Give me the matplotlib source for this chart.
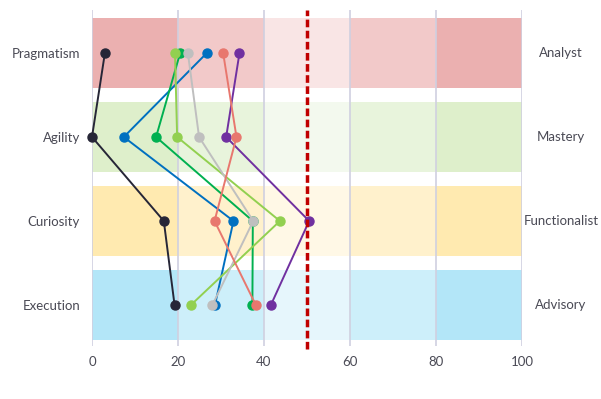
import matplotlib
matplotlib.use("Agg")
import matplotlib.pyplot as plt

# ---- data ----
dimensions = ["Execution", "Curiosity", "Agility", "Pragmatism"]   # bottom -> top
profiles = ["Advisory", "Functionalist", "Mastery", "Analyst"]
x_ticks = [0, 20, 40, 60, 80, 100]
threshold = 50

# score per series, ordered like `dimensions`
black = [19.2, 16.7, 0.0, 3.0]
blue = [28.6, 32.9, 7.4, 26.7]
green = [37.3, 37.4, 14.9, 20.5]
purple = [41.6, 50.5, 31.2, 34.3]
lightgreen = [23.0, 43.7, 19.8, 19.3]
gray = [28.0, 37.5, 24.9, 22.3]
salmon = [38.1, 28.5, 33.6, 30.5]

series = [
    (black, "#262637"),
    (blue, "#0070C0"),
    (green, "#00B050"),
    (purple, "#7030A0"),
    (lightgreen, "#92D050"),
    (gray, "#BFBFBF"),
    (salmon, "#E8776E"),
]

# band shading: edges along x and shade level (0 dark, 1 medium, 2 light)
band_edges = [0, 20, 40, 60, 80, 100]
band_levels = [0, 1, 2, 1, 0]
band_colors = [
    ["#B3E6F8", "#CDEFFA", "#E6F6FC"],  # Execution / Advisory
    ["#FFEAB0", "#FFF1CC", "#FFF8E6"],  # Curiosity / Functionalist
    ["#DEEFCB", "#E8F4DC", "#F3F9EE"],  # Agility / Mastery
    ["#EBB0B0", "#F2C9C9", "#F9E5E5"],  # Pragmatism / Analyst
]

plt.rcParams["font.family"] = ["Lato", "DejaVu Sans"]
text_color = "#4A4A55"

fig = plt.figure(figsize=(6.01, 3.99), dpi=100)
ax = fig.add_axes([92 / 601, 53 / 399, 430 / 601, 336 / 399])

ys = list(range(len(dimensions)))
for y, shades in zip(ys, band_colors):
    for i, lvl in enumerate(band_levels):
        ax.barh(y, band_edges[i + 1] - band_edges[i], left=band_edges[i],
                height=0.833, color=shades[lvl], lw=0, zorder=1)

for xt in x_ticks:
    ax.axvline(xt, color="#D0D0E0", lw=1.2, zorder=2)

for vals, col in series:
    ax.plot(vals, ys, color=col, lw=1.4, marker="o", ms=6.5,
            zorder=4, clip_on=False)

ax.axvline(threshold, color="#C00000", lw=2.5, ls=(0, (2.2, 1.0)), zorder=5,
           ymin=-0.01, ymax=1.0, clip_on=False)

ax.set_xlim(0, 100)
ax.set_ylim(-0.488, 3.512)
ax.set_xticks(x_ticks)
ax.set_xticklabels([str(t) for t in x_ticks])
ax.set_yticks(ys)
ax.set_yticklabels(dimensions)
ax.tick_params(axis="both", length=0, labelsize=9.5, colors=text_color)
ax.tick_params(axis="x", pad=7)
ax.tick_params(axis="y", pad=8.5)

# right-hand profile names, centred in the right margin
for y, name in zip(ys, profiles):
    ax.text(1.0907, y, name, transform=ax.get_yaxis_transform(),
            ha="center", va="center", fontsize=9.5, color=text_color)

for s in ax.spines.values():
    s.set_visible(False)

fig.savefig("out.png", dpi=100)
